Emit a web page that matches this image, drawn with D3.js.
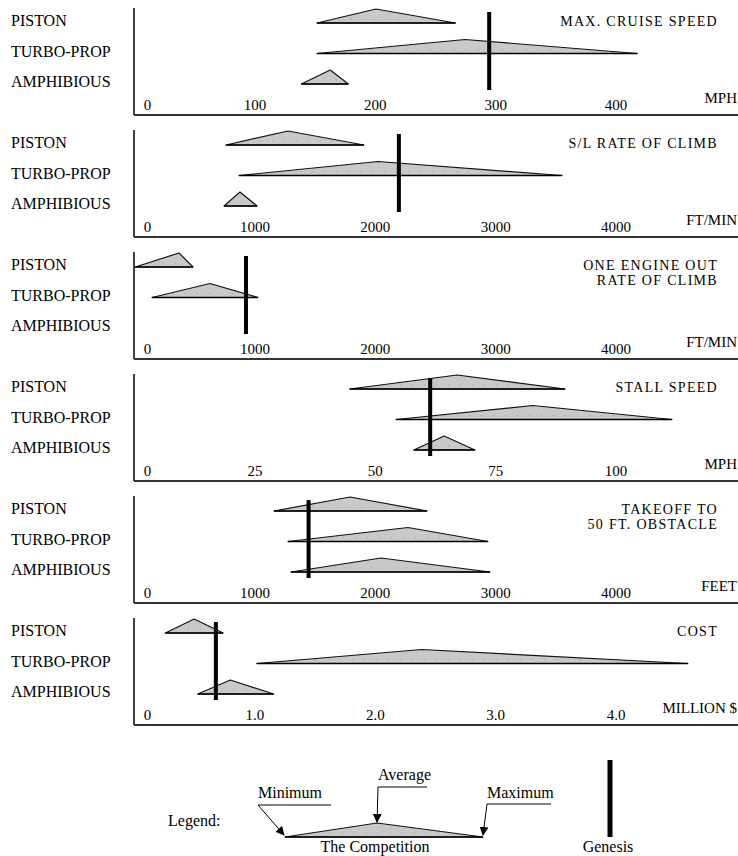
<!DOCTYPE html>
<html>
<head>
<meta charset="utf-8">
<script src="https://cdn.jsdelivr.net/npm/d3@7"></script>
<style>
  body { margin: 0; background: #fff; }
  text { font-family: "Liberation Serif", "DejaVu Serif", serif; fill: #000; }
</style>
</head>
<body>
<div id="chart"></div>
<script>
// aircraft classes, one row in every panel
var categories = ["PISTON", "TURBO-PROP", "AMPHIBIOUS"];

var metricTitles = [["MAX. CRUISE SPEED"], ["S/L RATE OF CLIMB"], ["ONE ENGINE OUT", "RATE OF CLIMB"],
                    ["STALL SPEED"], ["TAKEOFF TO", "50 FT. OBSTACLE"], ["COST"]];
var units = ["MPH", "FT/MIN", "FT/MIN", "MPH", "FEET", "MILLION $"];
var axisMax = [500, 5000, 5000, 125, 5000, 5];

var tickValues = [[0, 100, 200, 300, 400], [0, 1000, 2000, 3000, 4000], [0, 1000, 2000, 3000, 4000],
                  [0, 25, 50, 75, 100], [0, 1000, 2000, 3000, 4000], [0, 1, 2, 3, 4]];
var tickLabels = [["0", "100", "200", "300", "400"], ["0", "1000", "2000", "3000", "4000"],
                  ["0", "1000", "2000", "3000", "4000"], ["0", "25", "50", "75", "100"],
                  ["0", "1000", "2000", "3000", "4000"], ["0", "1.0", "2.0", "3.0", "4.0"]];

// the competition, per panel: [piston, turbo-prop, amphibious]
var minimum = [[152, 152, 139], [764, 872, 748], [10, 150, null], [44.8, 54.4, 58.1], [1163, 1279, 1304], [0.26, 1.02, 0.53]];
var average = [[201, 275, 163], [1279, 2027, 880], [374, 631, null], [67.1, 82.8, 64.4], [1794, 2276, 2051], [0.50, 2.39, 0.80]];
var maximum = [[267, 418, 178], [1910, 3555, 1022], [490, 1030, null], [89.5, 111.7, 70.8], [2434, 2940, 2957], [0.74, 4.60, 1.16]];
var genesis = [295, 2200, 930, 61.5, 1450, 0.68];

// legend sample (fractions of the sample width)
var legendSample = {min: 0, avg: 0.465, max: 1};

var width = 738, height = 856;
var axisX = 134, pitch = 122, firstBottom = 115;
var triH = 14;

var svg = d3.select("#chart").append("svg")
    .attr("width", width)
    .attr("height", height);

function triangle(g, x, lo, avg, hi, base) {
    var x0 = x(lo), x1 = x(avg), x2 = x(hi);
    g.append("polygon")
        .attr("points", [[x0, base], [x1, base - triH], [x2, base]].map(function(p) { return p.join(","); }).join(" "))
        .attr("fill", "#c9c9c9")
        .attr("stroke", "#111")
        .attr("stroke-width", 1.2)
        .attr("stroke-linejoin", "round");
    // faint dotted guide inside the shape
    var f = 5 / triH;
    g.append("line")
        .attr("x1", x0 + (x1 - x0) * f).attr("x2", x2 - (x2 - x1) * f)
        .attr("y1", base - 4).attr("y2", base - 4)
        .attr("stroke", "#999").attr("stroke-width", 1)
        .attr("stroke-dasharray", "1,11");
    g.append("line")
        .attr("x1", x0).attr("x2", x2)
        .attr("y1", base).attr("y2", base)
        .attr("stroke", "#000").attr("stroke-width", 1.6);
}

metricTitles.forEach(function(title, p) {
    var bottom = firstBottom + p * pitch;
    var g = svg.append("g").attr("class", "panel");

    var x = d3.scaleLinear().domain([0, axisMax[p]]).range([axisX, 736]);

    // frame: left rule and bottom rule
    g.append("line")
        .attr("x1", axisX).attr("x2", axisX)
        .attr("y1", bottom - 107).attr("y2", bottom)
        .attr("stroke", "#000").attr("stroke-width", 1.5);
    g.append("line")
        .attr("x1", axisX).attr("x2", width)
        .attr("y1", bottom).attr("y2", bottom)
        .attr("stroke", "#333").attr("stroke-width", 2);

    // tick labels through a d3 axis
    var axis = d3.axisBottom(x)
        .tickValues(tickValues[p])
        .tickFormat(function(d, i) { return tickLabels[p][i]; })
        .tickSize(0);
    var ax = g.append("g")
        .attr("transform", "translate(0," + (bottom - 5) + ")")
        .call(axis);
    ax.select(".domain").remove();
    ax.selectAll("text")
        .attr("y", 0).attr("dy", 0)
        .attr("font-size", 15)
        .attr("font-family", "Liberation Serif")
        .attr("fill", "#000")
        .attr("dx", function(d) { return d === 0 ? 13 : 0; });

    // category labels
    categories.forEach(function(c, r) {
        g.append("text")
            .attr("x", 11)
            .attr("y", bottom - 89 + r * 30.5)
            .attr("font-size", 16)
            .text(c);
    });

    // competition triangles
    categories.forEach(function(c, r) {
        if (minimum[p][r] == null) return;
        triangle(g, x, minimum[p][r], average[p][r], maximum[p][r], bottom - 92 + r * 30.5);
    });

    // genesis bar
    g.append("line")
        .attr("x1", x(genesis[p])).attr("x2", x(genesis[p]))
        .attr("y1", bottom - 103).attr("y2", bottom - 25)
        .attr("stroke", "#000").attr("stroke-width", 4);

    // title and units
    title.forEach(function(t, k) {
        g.append("text")
            .attr("x", 718)
            .attr("y", bottom - 89 + k * 15)
            .attr("text-anchor", "end")
            .attr("font-size", 14)
            .attr("letter-spacing", 1.3)
            .text(t);
    });
    g.append("text")
        .attr("x", 737)
        .attr("y", bottom - 12)
        .attr("text-anchor", "end")
        .attr("font-size", 15)
        .text(units[p]);
});

// legend
var lg = svg.append("g").attr("class", "legend");
var lx = d3.scaleLinear().domain([0, 1]).range([285, 483]);
var lBase = 837;

var defs = svg.append("defs");
defs.append("marker")
    .attr("id", "arrow")
    .attr("viewBox", "0 0 10 10")
    .attr("refX", 9).attr("refY", 5)
    .attr("markerWidth", 9).attr("markerHeight", 9)
    .attr("markerUnits", "userSpaceOnUse")
    .attr("orient", "auto")
    .append("path")
    .attr("d", "M0,0 L10,5 L0,10 Z")
    .attr("fill", "#000");

lg.append("text").attr("x", 168).attr("y", 826).attr("font-size", 16).text("Legend:");
triangle(lg, lx, legendSample.min, legendSample.avg, legendSample.max, lBase);

lg.append("text").attr("x", 375).attr("y", 852).attr("text-anchor", "middle").attr("font-size", 16).text("The Competition");

// Minimum
lg.append("text").attr("x", 258).attr("y", 798).attr("font-size", 16).text("Minimum");
lg.append("line").attr("x1", 258).attr("x2", 331).attr("y1", 805).attr("y2", 805).attr("stroke", "#000");
lg.append("line").attr("x1", 258).attr("y1", 805).attr("x2", lx(legendSample.min) - 1).attr("y2", lBase - 2)
    .attr("stroke", "#000").attr("marker-end", "url(#arrow)");

// Average
lg.append("text").attr("x", 378).attr("y", 780).attr("font-size", 16).text("Average");
lg.append("line").attr("x1", 378).attr("x2", 427).attr("y1", 787).attr("y2", 787).attr("stroke", "#000");
lg.append("line").attr("x1", 378).attr("y1", 787).attr("x2", lx(legendSample.avg)).attr("y2", lBase - triH - 1)
    .attr("stroke", "#000").attr("marker-end", "url(#arrow)");

// Maximum
lg.append("text").attr("x", 487).attr("y", 798).attr("font-size", 16).text("Maximum");
lg.append("line").attr("x1", 487).attr("x2", 551).attr("y1", 804).attr("y2", 804).attr("stroke", "#000");
lg.append("line").attr("x1", 487).attr("y1", 804).attr("x2", lx(legendSample.max)).attr("y2", lBase - 2)
    .attr("stroke", "#000").attr("marker-end", "url(#arrow)");

// Genesis
lg.append("line").attr("x1", 610).attr("x2", 610).attr("y1", 760).attr("y2", 837)
    .attr("stroke", "#000").attr("stroke-width", 5);
lg.append("text").attr("x", 608).attr("y", 852).attr("text-anchor", "middle").attr("font-size", 16).text("Genesis");
</script>
</body>
</html>
